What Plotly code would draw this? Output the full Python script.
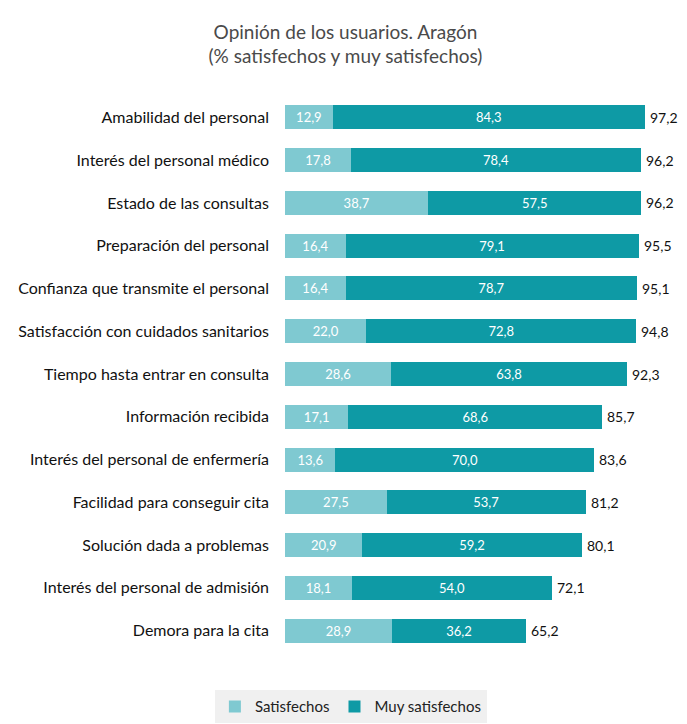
import plotly.graph_objects as go

categories = [
    "Amabilidad del personal",
    "Interés del personal médico",
    "Estado de las consultas",
    "Preparación del personal",
    "Confianza que transmite el personal",
    "Satisfacción con cuidados sanitarios",
    "Tiempo hasta entrar en consulta",
    "Información recibida",
    "Interés del personal de enfermería",
    "Facilidad para conseguir cita",
    "Solución dada a problemas",
    "Interés del personal de admisión",
    "Demora para la cita",
]
satisfechos = [12.9, 17.8, 38.7, 16.4, 16.4, 22.0, 28.6, 17.1, 13.6, 27.5, 20.9, 18.1, 28.9]
muy_satisfechos = [84.3, 78.4, 57.5, 79.1, 78.7, 72.8, 63.8, 68.6, 70.0, 53.7, 59.2, 54.0, 36.2]
totales = [97.2, 96.2, 96.2, 95.5, 95.1, 94.8, 92.3, 85.7, 83.6, 81.2, 80.1, 72.1, 65.2]

FONT = "Lato, Open Sans, sans-serif"
LIGHT = "#7fc9d1"
DARK = "#0e9aa5"

fig = go.Figure()
fig.add_trace(go.Bar(
    y=categories, x=satisfechos, name="Satisfechos", orientation="h",
    marker=dict(color=LIGHT, line=dict(width=0)),
    texttemplate="%{x:.1f}", textposition="inside", insidetextanchor="middle",
    textfont=dict(color="white", size=13, family=FONT),
))
fig.add_trace(go.Bar(
    y=categories, x=muy_satisfechos, name="Muy satisfechos", orientation="h",
    marker=dict(color=DARK, line=dict(width=0)),
    texttemplate="%{x:.1f}", textposition="inside", insidetextanchor="middle",
    textfont=dict(color="white", size=13, family=FONT),
))

for c, t in zip(categories, totales):
    fig.add_annotation(
        x=t, y=c, text=f"{t:.1f}".replace(".", ","), showarrow=False,
        xanchor="left", xshift=3, font=dict(size=14, color="#111", family=FONT),
    )

fig.update_layout(
    barmode="stack",
    bargap=0.44,
    separators=",.",
    width=679, height=716,
    paper_bgcolor="white", plot_bgcolor="white",
    margin=dict(l=277, r=0, t=88, b=72),
    title=dict(
        text="Opinión de los usuarios. Aragón<br>(% satisfechos y muy satisfechos)",
        x=0.497, xanchor="center", xref="container",
        y=0.957, yanchor="middle", yref="container",
        font=dict(size=19, color="#4a4a4a", family=FONT),
    ),
    xaxis=dict(range=[0, 108.6], visible=False, fixedrange=True),
    yaxis=dict(
        categoryorder="array", categoryarray=categories, autorange="reversed",
        showgrid=False, showline=False, ticks="", ticklabelstandoff=15,
        tickfont=dict(size=16, color="#111", family=FONT),
    ),
    legend=dict(
        orientation="h", x=0.505, xanchor="center", xref="container",
        y=0.024, yanchor="middle", yref="container",
        font=dict(size=15, color="#222", family=FONT),
        bgcolor="#f0f0f0", traceorder="normal",
    ),
    showlegend=True,
)

fig.write_html("out.html")
